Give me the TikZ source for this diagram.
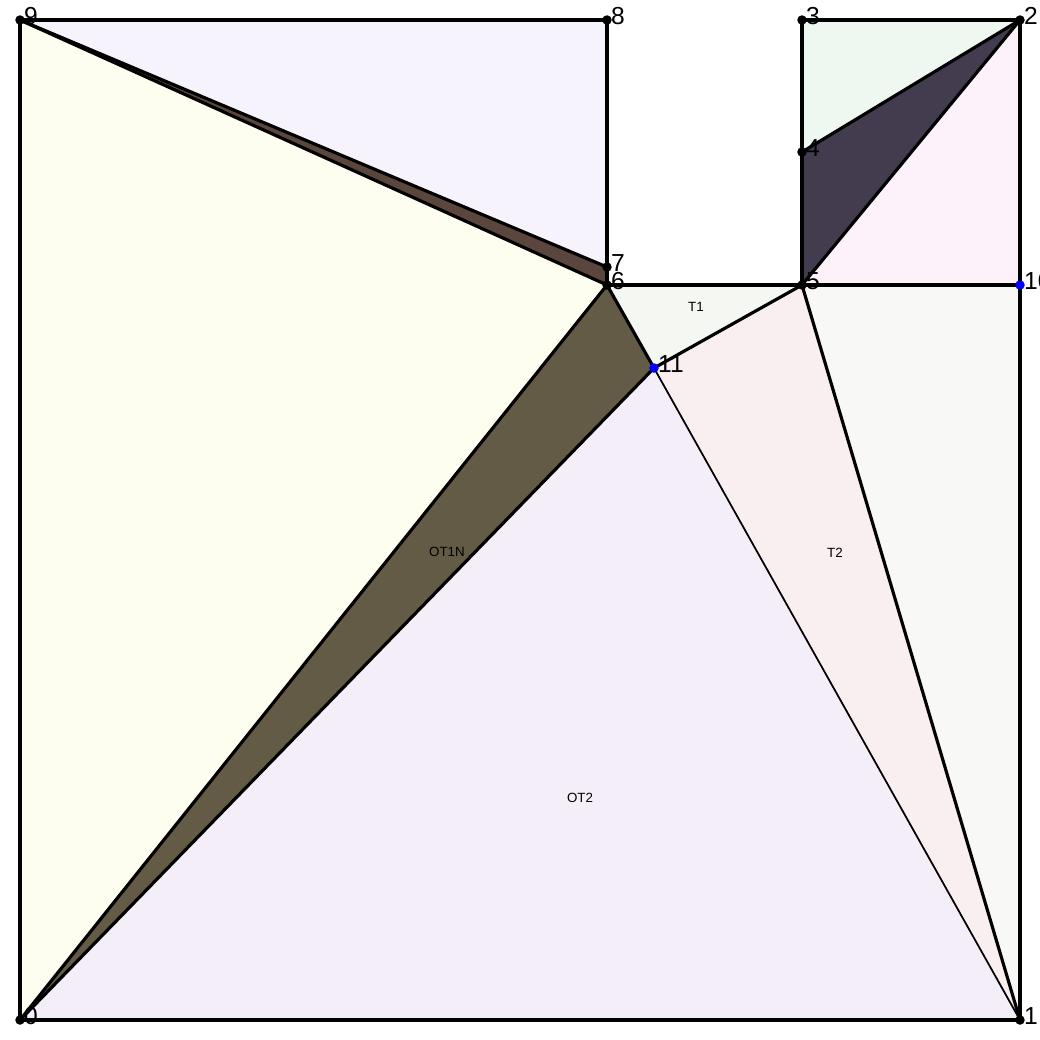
\documentclass[tikz,border=0pt]{standalone}
\usepackage{fontspec}
\setsansfont{Liberation Sans}
\usetikzlibrary{positioning}

\definecolor{lavtop}{HTML}{F7F3FD}
\definecolor{brownsliver}{HTML}{5B463D}
\definecolor{paleyellow}{HTML}{FDFDF0}
\definecolor{olive}{HTML}{635B45}
\definecolor{lavbottom}{HTML}{F4EEF9}
\definecolor{tonegray}{HTML}{F5F7F2}
\definecolor{ttwopink}{HTML}{F9EFF0}
\definecolor{rightgray}{HTML}{F8F8F6}
\definecolor{pinktop}{HTML}{FDF2FA}
\definecolor{darkslate}{HTML}{423C4E}
\definecolor{palegreen}{HTML}{EEF8F0}

\begin{document}
\begin{tikzpicture}[
    x=0.1mm, y=-0.1mm,
    edge/.style={draw=black, line width=0.9pt, line join=round},
    thinedge/.style={draw=black, line width=0.5pt},
    pt/.style={circle, fill=black, inner sep=0pt, minimum size=0.95mm},
    bluept/.style={circle, fill=blue, inner sep=0pt, minimum size=0.95mm},
    num/.style={anchor=south west, inner sep=0pt, font=\sffamily\fontsize{7}{8}\selectfont},
    tag/.style={font=\sffamily\fontsize{3.8}{4.5}\selectfont, inner sep=0pt}
]
\useasboundingbox (0,0) rectangle (1040,1040);

% vertices
\coordinate (p0) at (20,1020);
\coordinate (p1) at (1020,1020);
\coordinate (p2) at (1020,20);
\coordinate (p3) at (802,20);
\coordinate (p4) at (802,152);
\coordinate (p5) at (802,285);
\coordinate (p6) at (607,285);
\coordinate (p7) at (607,267);
\coordinate (p8) at (607,20);
\coordinate (p9) at (20,20);
\coordinate (p10) at (1020,285);
\coordinate (p11) at (654,368);

% regions
\fill[lavtop] (p9) -- (p8) -- (p7) -- cycle;
\fill[brownsliver] (p9) -- (p7) -- (p6) -- cycle;
\fill[paleyellow] (p9) -- (p6) -- (p0) -- cycle;
\fill[olive] (p0) -- (p6) -- (p11) -- cycle;
\fill[lavbottom] (p0) -- (p11) -- (p1) -- cycle;
\fill[tonegray] (p6) -- (p5) -- (p11) -- cycle;
\fill[ttwopink] (p11) -- (p5) -- (p1) -- cycle;
\fill[rightgray] (p5) -- (p10) -- (p1) -- cycle;
\fill[pinktop] (p5) -- (p2) -- (p10) -- cycle;
\fill[darkslate] (p4) -- (p2) -- (p5) -- cycle;
\fill[palegreen] (p3) -- (p2) -- (p4) -- cycle;

% edges
\draw[edge] (p0) -- (p1) -- (p10) -- (p2) -- (p3) -- (p4) -- (p5) -- (p6) -- (p7) -- (p8) -- (p9) -- cycle;
\draw[edge] (p9) -- (p7);
\draw[edge] (p9) -- (p6);
\draw[edge] (p0) -- (p6);
\draw[edge] (p0) -- (p11);
\draw[edge] (p6) -- (p11);
\draw[edge] (p5) -- (p11);
\draw[thinedge] (p11) -- (p1);
\draw[edge] (p5) -- (p1);
\draw[edge] (p5) -- (p10);
\draw[edge] (p5) -- (p2);
\draw[edge] (p4) -- (p2);

% points
\foreach \i in {0,...,9} {
  \node[pt] (d\i) at (p\i) {};
  \node[num] (n\i) at ([xshift=1pt,yshift=-1.5pt]p\i) {\i};
}
\node[bluept] (d10) at (p10) {};
\node[num] (n10) at ([xshift=1pt,yshift=-1.5pt]p10) {10};
\node[bluept] (d11) at (p11) {};
\node[num] (n11) at ([xshift=1pt,yshift=-1.5pt]p11) {11};

% region tags
\node[tag] (tone) at (696,307) {T1};
\node[tag] (ttwo) at (835,553) {T2};
\node[tag] (otonen) at (447,552) {OT1N};
\node[tag] (ottwo) at (580,798) {OT2};
\end{tikzpicture}
\end{document}
